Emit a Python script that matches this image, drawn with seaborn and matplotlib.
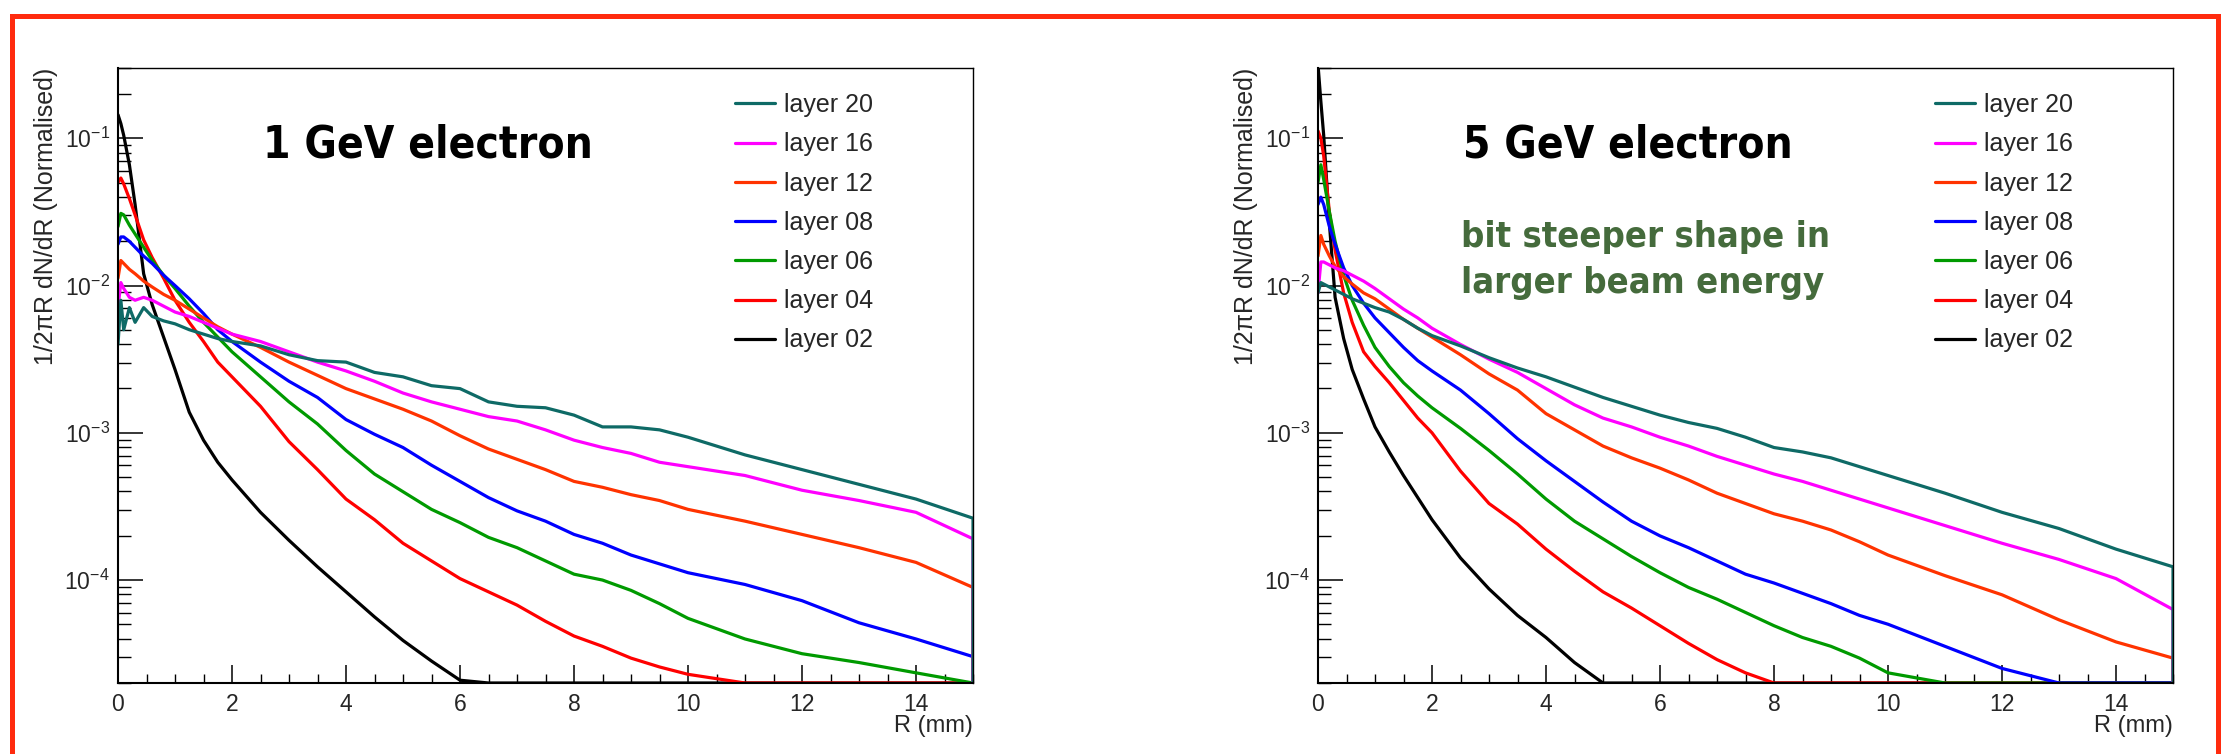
import numpy as np
import pandas as pd
import matplotlib
matplotlib.use("Agg")
import matplotlib.pyplot as plt
import seaborn as sns
from matplotlib import font_manager as fm
from matplotlib.ticker import LogLocator, NullFormatter, MultipleLocator
from matplotlib.patches import Rectangle

# ---------------- data ----------------
# radial distance R (mm) at which the curves were read
r_mm = [0, 0.05, 0.1, 0.2, 0.3, 0.45, 0.6, 0.8, 1.0, 1.25, 1.5, 1.75, 2.0, 2.5, 3.0,
        3.5, 4.0, 4.5, 5.0, 5.5, 6.0, 6.5, 7.0, 7.5, 8.0, 8.5, 9.0, 9.5, 10.0, 11.0,
        12.0, 13.0, 14.0, 15.0]

layers = ["layer 20", "layer 16", "layer 12", "layer 08", "layer 06", "layer 04", "layer 02"]

# log10(1/2piR dN/dR) ; values below -4.7 lie under the plotted range
gev1_layer20 = [-2.40, -2.10, -2.30, -2.15, -2.25, -2.15, -2.21, -2.24, -2.26, -2.30, -2.33, -2.36,
                -2.38, -2.41, -2.47, -2.51, -2.52, -2.59, -2.62, -2.68, -2.70, -2.79, -2.82, -2.83,
                -2.88, -2.96, -2.96, -2.98, -3.03, -3.15, -3.25, -3.35, -3.45, -3.58]
gev1_layer16 = [-2.15, -1.98, -2.02, -2.08, -2.10, -2.08, -2.10, -2.14, -2.18, -2.21, -2.25, -2.29,
                -2.33, -2.38, -2.45, -2.52, -2.58, -2.65, -2.73, -2.79, -2.84, -2.89, -2.92, -2.98,
                -3.05, -3.10, -3.14, -3.20, -3.23, -3.29, -3.39, -3.46, -3.54, -3.72]
gev1_layer12 = [-1.95, -1.83, -1.85, -1.89, -1.92, -1.97, -2.01, -2.06, -2.10, -2.16, -2.22, -2.28,
                -2.33, -2.42, -2.52, -2.61, -2.70, -2.77, -2.84, -2.92, -3.02, -3.11, -3.18, -3.25,
                -3.33, -3.37, -3.42, -3.46, -3.52, -3.60, -3.69, -3.78, -3.88, -4.05]
gev1_layer08 = [-1.72, -1.67, -1.67, -1.70, -1.74, -1.80, -1.85, -1.93, -2.00, -2.09, -2.19, -2.30,
                -2.38, -2.52, -2.65, -2.76, -2.91, -3.01, -3.10, -3.22, -3.33, -3.44, -3.53, -3.60,
                -3.69, -3.75, -3.83, -3.89, -3.95, -4.03, -4.14, -4.29, -4.40, -4.52]
gev1_layer06 = [-1.60, -1.51, -1.52, -1.59, -1.65, -1.74, -1.83, -1.93, -2.02, -2.14, -2.25, -2.35,
                -2.45, -2.62, -2.79, -2.94, -3.12, -3.28, -3.40, -3.52, -3.61, -3.71, -3.78, -3.87,
                -3.96, -4.00, -4.07, -4.16, -4.26, -4.40, -4.50, -4.56, -4.63, -4.85]
gev1_layer04 = [-1.30, -1.27, -1.31, -1.41, -1.52, -1.69, -1.81, -1.95, -2.10, -2.25, -2.38, -2.52,
                -2.62, -2.82, -3.06, -3.25, -3.45, -3.59, -3.75, -3.87, -3.99, -4.08, -4.17, -4.28,
                -4.38, -4.45, -4.53, -4.59, -4.64, -4.78, -5.5, -5.5, -5.5, -5.5]
gev1_layer02 = [-0.84, -0.90, -0.98, -1.18, -1.45, -1.92, -2.13, -2.35, -2.57, -2.86, -3.05, -3.20,
                -3.32, -3.54, -3.73, -3.91, -4.08, -4.25, -4.41, -4.55, -4.68, -4.85, -5.5, -5.5,
                -5.5, -5.5, -5.5, -5.5, -5.5, -5.5, -5.5, -5.5, -5.5, -5.5]

gev5_layer20 = [-2.05, -1.98, -1.99, -2.01, -2.03, -2.06, -2.09, -2.12, -2.15, -2.18, -2.23, -2.29,
                -2.34, -2.41, -2.49, -2.56, -2.62, -2.69, -2.76, -2.82, -2.88, -2.93, -2.97, -3.03,
                -3.10, -3.13, -3.17, -3.23, -3.29, -3.41, -3.54, -3.65, -3.79, -3.91]
gev5_layer16 = [-2.05, -1.84, -1.84, -1.86, -1.88, -1.90, -1.93, -1.97, -2.02, -2.09, -2.16, -2.22,
                -2.29, -2.40, -2.50, -2.59, -2.70, -2.81, -2.90, -2.96, -3.03, -3.09, -3.16, -3.22,
                -3.28, -3.33, -3.39, -3.45, -3.51, -3.63, -3.75, -3.86, -3.99, -4.20]
gev5_layer12 = [-1.80, -1.66, -1.72, -1.80, -1.87, -1.94, -1.99, -2.05, -2.09, -2.16, -2.23, -2.29,
                -2.35, -2.47, -2.60, -2.71, -2.87, -2.98, -3.09, -3.17, -3.24, -3.32, -3.41, -3.48,
                -3.55, -3.60, -3.66, -3.74, -3.83, -3.97, -4.10, -4.27, -4.42, -4.53]
gev5_layer08 = [-1.45, -1.40, -1.45, -1.60, -1.72, -1.88, -2.00, -2.12, -2.22, -2.32, -2.42, -2.51,
                -2.58, -2.71, -2.87, -3.04, -3.19, -3.33, -3.47, -3.60, -3.70, -3.78, -3.87, -3.96,
                -4.02, -4.09, -4.16, -4.24, -4.30, -4.45, -4.60, -4.85, -5.5, -5.5]
gev5_layer06 = [-1.30, -1.18, -1.28, -1.50, -1.70, -1.93, -2.10, -2.27, -2.42, -2.55, -2.66, -2.75,
                -2.83, -2.97, -3.12, -3.28, -3.45, -3.60, -3.72, -3.84, -3.95, -4.05, -4.13, -4.22,
                -4.31, -4.39, -4.45, -4.53, -4.63, -4.95, -5.5, -5.5, -5.5, -5.5]
gev5_layer04 = [-0.95, -1.00, -1.12, -1.50, -1.76, -2.05, -2.25, -2.45, -2.55, -2.66, -2.78, -2.90,
                -3.00, -3.26, -3.48, -3.62, -3.79, -3.94, -4.08, -4.19, -4.31, -4.43, -4.54, -4.63,
                -4.72, -5.5, -5.5, -5.5, -5.5, -5.5, -5.5, -5.5, -5.5, -5.5]
gev5_layer02 = [-0.50, -0.75, -0.98, -1.58, -2.08, -2.36, -2.57, -2.77, -2.96, -3.13, -3.29, -3.44,
                -3.59, -3.85, -4.06, -4.24, -4.39, -4.56, -4.71, -5.5, -5.5, -5.5, -5.5, -5.5,
                -5.5, -5.5, -5.5, -5.5, -5.5, -5.5, -5.5, -5.5, -5.5, -5.5]

panel_titles = ["1 GeV electron", "5 GeV electron"]
note_lines = ["bit steeper shape in", "larger beam energy"]
x_ticks = [0, 2, 4, 6, 8, 10, 12, 14]

# ---------------- style ----------------
colors = {"layer 20": "#0e6a66", "layer 16": "#ff00ff", "layer 12": "#ff3300",
          "layer 08": "#0000ff", "layer 06": "#009a00", "layer 04": "#ff0000",
          "layer 02": "#000000"}

sns.set_style("white")
plt.rcParams["font.family"] = ["Liberation Sans", "DejaVu Sans"]
plt.rcParams["mathtext.fontset"] = "custom"
plt.rcParams["mathtext.rm"] = "Liberation Sans"
plt.rcParams["mathtext.it"] = "Liberation Sans:italic"
plt.rcParams["mathtext.bf"] = "Liberation Sans:bold"


def narrow_bold_font():
    """Find a condensed / narrow bold face if one is installed."""
    best = None
    for f in fm.fontManager.ttflist:
        name = f.name or ""
        st = str(f.stretch)
        narrow = ("Narrow" in name or "Condensed" in name or "condensed" in st)
        w = f.weight
        if isinstance(w, str):
            w = {"bold": 700, "heavy": 800, "black": 900, "extra bold": 800,
                 "semibold": 600, "demibold": 600}.get(w.lower(), 400)
        if narrow and w >= 700:
            rank = 0 if "Liberation" in name else (1 if "DejaVu" in name else 2)
            if best is None or rank < best[0]:
                best = (rank, f.fname)
    if best is None:
        return fm.FontProperties(family=["Liberation Sans", "DejaVu Sans"], weight="bold")
    return fm.FontProperties(fname=best[1])


W, H = 2227, 754
fig = plt.figure(figsize=(W / 100, H / 100), dpi=100)
fig.patch.set_facecolor("white")
renderer = fig.canvas.get_renderer()

YMIN, YMAX = 2.0e-5, 0.30
XMIN, XMAX = 0.0, 15.0

panels = [
    dict(x0=118, data=[gev1_layer20, gev1_layer16, gev1_layer12, gev1_layer08,
                       gev1_layer06, gev1_layer04, gev1_layer02], leg_x=735),
    dict(x0=1318, data=[gev5_layer20, gev5_layer16, gev5_layer12, gev5_layer08,
                        gev5_layer06, gev5_layer04, gev5_layer02], leg_x=1935),
]

title_font = narrow_bold_font()


def fitted_text(x, y, s, size_h, target_w, color="black"):
    """size_h: size matching the glyph height; shrink partly toward width fit."""
    t = fig.text(x, y, s, fontproperties=title_font.copy(), fontsize=size_h,
                 color=color, ha="left", va="baseline")
    w = t.get_window_extent(renderer).width
    if w > target_w:
        size_w = size_h * target_w / w
        t.set_fontsize((size_h * size_w) ** 0.5)
    return t


for i, p in enumerate(panels):
    ax = fig.add_axes([p["x0"] / W, (H - 683) / H, 855 / W, 615 / H])
    rows = []
    for name, logs in zip(layers, p["data"]):
        vals = np.clip(10.0 ** np.asarray(logs), YMIN, None)
        for r, v in zip(r_mm, vals):
            rows.append((name, r, v))
        rows.append((name, r_mm[-1], YMIN))  # histogram edge drops to the baseline
    df = pd.DataFrame(rows, columns=["layer", "R", "val"])
    sns.lineplot(data=df, x="R", y="val", hue="layer", hue_order=layers[::-1],
                 palette=colors, sort=False, estimator=None, linewidth=2.3,
                 ax=ax, legend=True)
    ax.set_yscale("log")
    ax.set_ylim(YMIN, YMAX)
    ax.set_xlim(XMIN, XMAX)
    ax.set_xticks(x_ticks)
    ax.xaxis.set_minor_locator(MultipleLocator(0.5))
    ax.yaxis.set_major_locator(LogLocator(base=10, numticks=20))
    ax.yaxis.set_minor_locator(LogLocator(base=10, subs=np.arange(2, 10), numticks=20))
    ax.yaxis.set_minor_formatter(NullFormatter())
    ax.tick_params(axis="x", which="major", direction="in", length=13, width=1.1,
                   labelsize=16.5, pad=7, bottom=True, top=False, color="black")
    ax.tick_params(axis="x", which="minor", direction="in", length=6.5, width=1.0,
                   bottom=True, top=False, color="black")
    ax.tick_params(axis="y", which="major", direction="in", length=18, width=1.1,
                   labelsize=16.5, pad=6, left=True, right=False, color="black")
    ax.tick_params(axis="y", which="minor", direction="in", length=9, width=1.0,
                   left=True, right=False, color="black")
    for s in ["left", "bottom"]:
        ax.spines[s].set_linewidth(1.5)
        ax.spines[s].set_color("black")
    for s in ["top", "right"]:
        ax.spines[s].set_linewidth(1.0)
        ax.spines[s].set_color("black")
    ax.set_xlabel("R (mm)", fontsize=17, ha="right", va="top")
    ax.xaxis.set_label_coords(1.0, -0.052)
    ax.set_ylabel("1/2\u03c0R dN/dR (Normalised)", fontsize=18, ha="right", va="bottom")
    ax.yaxis.set_label_coords(-0.070, 1.0)

    handles, labels = ax.get_legend_handles_labels()
    order = [labels.index(l) for l in layers]
    leg = ax.legend([handles[k] for k in order], [labels[k] for k in order],
                    loc="upper left", bbox_to_anchor=(p["leg_x"] / W, 1 - 93 / H),
                    bbox_transform=fig.transFigure, frameon=False, fontsize=18,
                    handlelength=1.6, handletextpad=0.38, labelspacing=0.61,
                    borderpad=0, borderaxespad=0)
    for h in leg.get_lines():
        h.set_linewidth(2.3)

    fitted_text((p["x0"] + 145) / W, 1 - 158 / H, panel_titles[i], 34.5, 303)

fitted_text(1461 / W, 1 - 247 / H, note_lines[0], 29, 332, color="#456b3c")
fitted_text(1461 / W, 1 - 293 / H, note_lines[1], 29, 327, color="#456b3c")

# red frame around the figure
fig.add_artist(Rectangle((11.5 / W, -0.05), (2218 - 11.5) / W, (1 - 16 / H) + 0.05,
                         transform=fig.transFigure, fill=False, edgecolor="#ff2b0e",
                         linewidth=3.6, clip_on=False))

fig.savefig("out.png", dpi=100, facecolor="white")
